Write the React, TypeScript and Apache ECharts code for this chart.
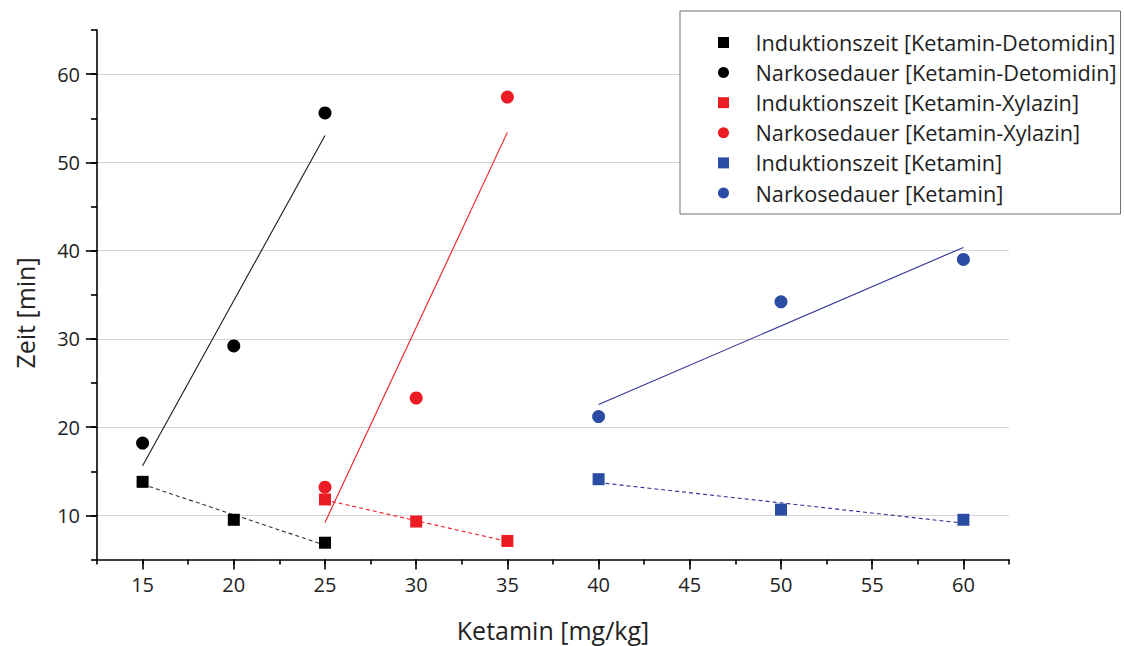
import React, { useEffect, useRef } from "react";
import * as echarts from "echarts";

// Ketamin-Dosis [mg/kg] je Gruppe
const doseDetomidin = [15, 20, 25];
const doseXylazin = [25, 30, 35];
const doseKetamin = [40, 50, 60];

// Zeiten [min]
const inductionDetomidin = [13.8, 9.5, 6.9];
const durationDetomidin = [18.2, 29.2, 55.6];
const inductionXylazin = [11.8, 9.3, 7.1];
const durationXylazin = [13.2, 23.3, 57.4];
const inductionKetamin = [14.1, 10.65, 9.5];
const durationKetamin = [21.2, 34.2, 39.0];

const xMajorTicks = [15, 20, 25, 30, 35, 40, 45, 50, 55, 60];
const yMajorTicks = [10, 20, 30, 40, 50, 60];

const FONT = "'Open Sans', 'DejaVu Sans', sans-serif";
const BLACK = "#000000";
const RED = "#ec1c24";
const BLUE = "#2a4da3";
const NAVY = "#2e3192";

const SQUARE_ICON = "path://M0,0H10V10H0Z";

const pairs = (xs: number[], ys: number[]) => xs.map((x, i) => [x, ys[i]]);

// least-squares straight line over the dose range of a group
function linearFit(xs: number[], ys: number[]) {
  const n = xs.length;
  const mx = xs.reduce((a, b) => a + b, 0) / n;
  const my = ys.reduce((a, b) => a + b, 0) / n;
  let sxy = 0;
  let sxx = 0;
  for (let i = 0; i < n; i++) {
    sxy += (xs[i] - mx) * (ys[i] - my);
    sxx += (xs[i] - mx) * (xs[i] - mx);
  }
  const slope = sxy / sxx;
  const x0 = Math.min(...xs);
  const x1 = Math.max(...xs);
  return [
    [x0, my + slope * (x0 - mx)],
    [x1, my + slope * (x1 - mx)],
  ];
}

const scatter = (name: string, xs: number[], ys: number[], symbol: string, color: string) => ({
  type: "scatter",
  name,
  data: pairs(xs, ys),
  symbol,
  symbolSize: symbol === "circle" ? 13 : 12,
  itemStyle: { color, opacity: 1 },
  z: 3,
});

const fit = (xs: number[], ys: number[], color: string, dashed: boolean) => ({
  type: "line",
  data: linearFit(xs, ys),
  showSymbol: false,
  silent: true,
  lineStyle: { color, width: 1.1, type: dashed ? [4, 3] : "solid" },
  z: 2,
});

export default function App() {
  const ref = useRef<HTMLDivElement>(null);

  useEffect(() => {
    if (!ref.current) return;
    const chart = echarts.init(ref.current, null, { renderer: "svg" });

    const axisLine = { show: true, lineStyle: { color: "#000", width: 1.6 } };
    const tickStyle = { color: "#000", width: 1.6 };

    const legendNames = [
      "Induktionszeit [Ketamin-Detomidin]",
      "Narkosedauer [Ketamin-Detomidin]",
      "Induktionszeit [Ketamin-Xylazin]",
      "Narkosedauer [Ketamin-Xylazin]",
      "Induktionszeit [Ketamin]",
      "Narkosedauer [Ketamin]",
    ];

    chart.setOption({
      animation: false,
      backgroundColor: "#ffffff",
      grid: { left: 97, top: 30, width: 912, height: 529.5, containLabel: false },
      xAxis: [
        {
          type: "value",
          min: 12.5,
          max: 62.5,
          interval: 2.5,
          position: "bottom",
          axisLine,
          axisTick: { show: true, inside: false, length: 5, lineStyle: tickStyle },
          axisLabel: { show: false },
          splitLine: { show: false },
        },
        {
          type: "value",
          min: 12.5,
          max: 62.5,
          position: "bottom",
          axisLine: { show: false },
          axisTick: { show: true, inside: false, length: 10, lineStyle: tickStyle, customValues: xMajorTicks },
          axisLabel: {
            show: true,
            customValues: xMajorTicks,
            margin: 15,
            fontSize: 20,
            color: "#222",
            fontFamily: FONT,
          },
          splitLine: { show: false },
        },
      ],
      yAxis: [
        {
          type: "value",
          min: 5,
          max: 65,
          interval: 5,
          position: "left",
          axisLine,
          axisTick: { show: true, inside: false, length: 6, lineStyle: tickStyle },
          axisLabel: { show: false },
          splitLine: { show: false },
        },
        {
          type: "value",
          min: 5,
          max: 65,
          position: "left",
          axisLine: { show: false },
          axisTick: { show: true, inside: false, length: 11, lineStyle: tickStyle, customValues: yMajorTicks },
          axisLabel: {
            show: true,
            customValues: yMajorTicks,
            margin: 17,
            fontSize: 20,
            color: "#222",
            fontFamily: FONT,
          },
          splitLine: { show: false },
        },
      ],
      legend: {
        data: legendNames.map((name, i) => ({
          name,
          icon: i % 2 === 0 ? SQUARE_ICON : "circle",
        })),
        orient: "vertical",
        left: 680,
        top: 11,
        itemWidth: 54,
        itemHeight: 11,
        itemGap: 8.1,
        padding: [20.5, 4, 10, 38],
        backgroundColor: "#ffffff",
        borderColor: "#707070",
        borderWidth: 1,
        selectedMode: false,
        textStyle: { fontSize: 21.7, lineHeight: 20, color: "#1e1e1e", fontFamily: FONT },
        z: 5,
      },
      graphic: [
        {
          type: "text",
          x: 553,
          y: 630,
          style: {
            text: "Ketamin [mg/kg]",
            fontSize: 25,
            fontFamily: FONT,
            fill: "#222",
            textAlign: "center",
            textVerticalAlign: "middle",
          },
        },
        {
          type: "text",
          x: 25,
          y: 313,
          rotation: Math.PI / 2,
          style: {
            text: "Zeit [min]",
            fontSize: 25,
            fontFamily: FONT,
            fill: "#222",
            textAlign: "center",
            textVerticalAlign: "middle",
          },
        },
      ],
      series: [
        // horizontal grid lines at the labelled y ticks
        {
          type: "line",
          data: [],
          silent: true,
          markLine: {
            silent: true,
            z: 0,
            symbol: "none",
            label: { show: false },
            lineStyle: { color: "#d4d4d4", width: 1, type: "solid" },
            data: yMajorTicks.map((v) => ({ yAxis: v })),
          },
          z: 0,
        },
        scatter(legendNames[0], doseDetomidin, inductionDetomidin, "rect", BLACK),
        scatter(legendNames[1], doseDetomidin, durationDetomidin, "circle", BLACK),
        scatter(legendNames[2], doseXylazin, inductionXylazin, "rect", RED),
        scatter(legendNames[3], doseXylazin, durationXylazin, "circle", RED),
        scatter(legendNames[4], doseKetamin, inductionKetamin, "rect", BLUE),
        scatter(legendNames[5], doseKetamin, durationKetamin, "circle", BLUE),
        fit(doseDetomidin, inductionDetomidin, "#333333", true),
        fit(doseDetomidin, durationDetomidin, "#1a1a1a", false),
        fit(doseXylazin, inductionXylazin, RED, true),
        fit(doseXylazin, durationXylazin, RED, false),
        fit(doseKetamin, inductionKetamin, NAVY, true),
        fit(doseKetamin, durationKetamin, NAVY, false),
      ],
    });

    return () => chart.dispose();
  }, []);

  return (
    <div
      ref={ref}
      style={{ position: "fixed", left: 0, top: 0, width: 1124, height: 646, background: "#fff" }}
    />
  );
}
